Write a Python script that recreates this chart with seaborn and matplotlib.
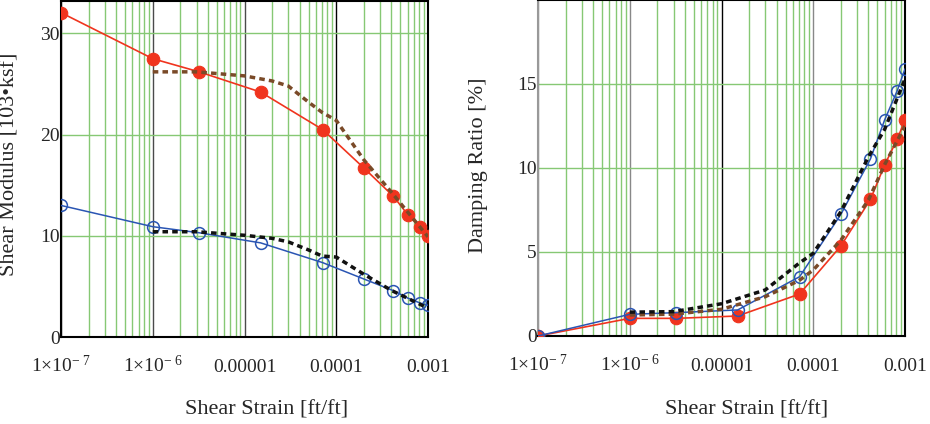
import numpy as np
import pandas as pd
import matplotlib
matplotlib.use("Agg")
import matplotlib.pyplot as plt
import matplotlib.ticker as mticker
import seaborn as sns

# ---------------- data ----------------
strain = [1e-7, 1e-6, 3.2e-6, 1.5e-5, 7.1e-5, 2.0e-4, 4.2e-4, 6.0e-4, 8.2e-4, 1e-3]

# Shear modulus [10^3 ksf]
gmod_red = [32.05, 27.5, 26.2, 24.2, 20.5, 16.7, 13.9, 12.1, 10.9, 10.0]
gmod_blue = [13.0, 10.9, 10.3, 9.3, 7.35, 5.73, 4.58, 3.85, 3.36, 3.13]

fit_strain_g = [1e-6, 3e-6, 1e-5, 2e-5, 3e-5, 5e-5, 7e-5, 1e-4, 2e-4, 4e-4, 1e-3]
gfit_brown = [26.2, 26.2, 25.8, 25.3, 24.8, 23.2, 22.2, 21.4, 17.5, 14.3, 9.9]
gfit_black = [10.4, 10.4, 10.05, 9.75, 9.4, 8.6, 8.0, 7.9, 6.2, 4.6, 2.85]

# Damping ratio [%]
damp_red = [0.0, 1.05, 1.05, 1.19, 2.5, 5.36, 8.13, 10.18, 11.7, 12.86]
damp_blue = [0.0, 1.29, 1.39, 1.55, 3.53, 7.24, 10.54, 12.86, 14.58, 15.9]

fit_strain_d = [1e-6, 3e-6, 1e-5, 3e-5, 7e-5, 1e-4, 2e-4, 4e-4, 6e-4, 1e-3]
dfit_black = [1.42, 1.45, 1.92, 2.74, 4.33, 4.92, 7.4, 10.67, 12.3, 15.3]
dfit_brown = [1.25, 1.3, 1.59, 2.34, 3.3, 3.93, 5.7, 8.1, 10.2, 12.5]

xtick_vals = [1e-7, 1e-6, 1e-5, 1e-4, 1e-3]
xtick_labels = [r"$1{\times}10^{-\ 7}$", r"$1{\times}10^{-\ 6}$", "0.00001", "0.0001", "0.001"]

# ---------------- style ----------------
sns.set_style("white")
plt.rcParams["font.family"] = ["Liberation Serif", "DejaVu Serif"]
plt.rcParams["mathtext.fontset"] = "custom"
plt.rcParams["mathtext.rm"] = "Liberation Serif"
plt.rcParams["mathtext.it"] = "Liberation Serif:italic"
plt.rcParams["mathtext.bf"] = "Liberation Serif:bold"

RED = "#F0341E"
BLUE = "#2A55B3"
BROWN = "#7A4A28"
BLACK = "#111111"
GREEN = "#86C874"

fig = plt.figure(figsize=(9.3, 4.24), dpi=100)
ax1 = fig.add_axes([61 / 930, 87 / 424, 367 / 930, 336 / 424])
ax2 = fig.add_axes([538 / 930, 88 / 424, 367 / 930, 336 / 424])

df_g = pd.DataFrame({"strain": strain, "red": gmod_red, "blue": gmod_blue})
df_gf = pd.DataFrame({"strain": fit_strain_g, "brown": gfit_brown, "black": gfit_black})
df_d = pd.DataFrame({"strain": strain, "red": damp_red, "blue": damp_blue})
df_df = pd.DataFrame({"strain": fit_strain_d, "brown": dfit_brown, "black": dfit_black})

dot = (0, (1.6, 1.2))

def draw(ax, df, dff):
    sns.lineplot(data=df, x="strain", y="red", ax=ax, color=RED, lw=1.2,
                 marker="o", markersize=9, markeredgecolor=RED, markerfacecolor=RED,
                 markeredgewidth=0.8, zorder=3)
    sns.lineplot(data=df, x="strain", y="blue", ax=ax, color=BLUE, lw=1.1,
                 marker="o", markersize=8.5, markeredgecolor=BLUE, markerfacecolor="none",
                 markeredgewidth=1.1, zorder=4)
    sns.lineplot(data=dff, x="strain", y="brown", ax=ax, color=BROWN, lw=2.5,
                 linestyle=dot, zorder=5)
    sns.lineplot(data=dff, x="strain", y="black", ax=ax, color=BLACK, lw=2.5,
                 linestyle=dot, zorder=5)

draw(ax1, df_g, df_gf)
draw(ax2, df_d, df_df)

def style(ax, ylim, yticks, major_colors, left_spine_color):
    ax.set_xscale("log")
    ax.set_xlim(1e-7, 1e-3)
    ax.set_ylim(*ylim)
    ax.set_xticks(xtick_vals, xtick_labels)
    ax.xaxis.set_minor_locator(mticker.LogLocator(base=10, subs=np.arange(2, 10)))
    ax.xaxis.set_minor_formatter(mticker.NullFormatter())
    ax.set_yticks(yticks)
    ax.set_yticklabels([str(v) for v in yticks])
    ax.tick_params(axis="both", which="both", length=0)
    ax.tick_params(axis="x", labelsize=14, pad=25)
    ax.tick_params(axis="y", labelsize=14, pad=1)
    ax.grid(False)
    ax.grid(True, which="minor", axis="x", color=GREEN, lw=1.0)
    ax.grid(True, which="major", axis="y", color=GREEN, lw=1.0)
    ax.grid(True, which="major", axis="x", color="#333333", lw=1.0)
    for gl, c in zip(ax.xaxis.get_gridlines(), major_colors):
        gl.set_color(c)
    ax.set_axisbelow(True)
    for s in ax.spines.values():
        s.set_visible(True)
        s.set_color("black")
        s.set_linewidth(1.5)
    ax.spines["left"].set_color(left_spine_color)

style(ax1, (0, 33.2), [0, 10, 20, 30],
      ["black", "#4a4a4a", "#4a4a4a", "#000000", "black"], "black")
style(ax2, (0, 20), [0, 5, 10, 15],
      ["#888888", "#888888", "#000000", "#888888", "black"], "#999999")

ax1.set_xlabel("Shear Strain [ft/ft]", fontsize=16, va="center")
ax1.xaxis.set_label_coords(0.559, -0.217)
ax1.set_ylabel("Shear Modulus [103•ksf]", fontsize=16, va="center")
ax1.yaxis.set_label_coords(-0.139, 0.515)

ax2.set_xlabel("Shear Strain [ft/ft]", fontsize=16, va="center")
ax2.xaxis.set_label_coords(0.569, -0.22)
ax2.set_ylabel("Damping Ratio [%]", fontsize=16, va="center")
ax2.yaxis.set_label_coords(-0.163, 0.509)

for ax in (ax1, ax2):
    for t in ax.get_xticklabels():
        t.set_verticalalignment("baseline")

fig.savefig("out.png", dpi=100)
